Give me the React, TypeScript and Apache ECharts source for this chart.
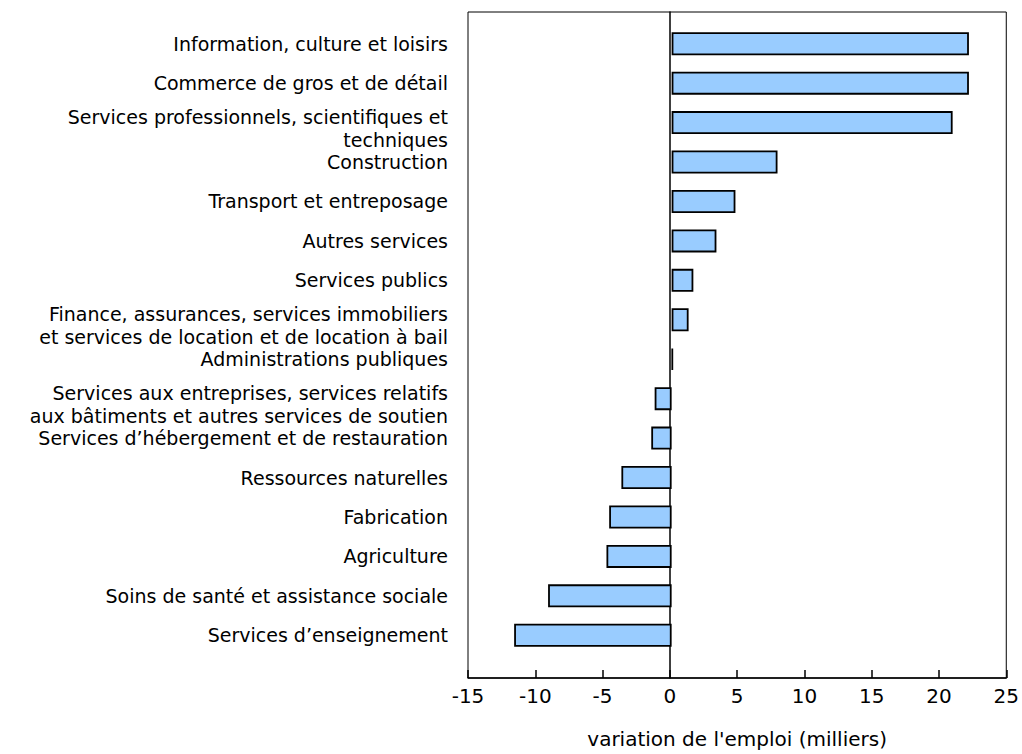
import React, { useEffect, useRef } from "react";
import * as echarts from "echarts";

const categories: string[] = [
  "Information, culture et loisirs",
  "Commerce de gros et de détail",
  "Services professionnels, scientifiques et\ntechniques",
  "Construction",
  "Transport et entreposage",
  "Autres services",
  "Services publics",
  "Finance, assurances, services immobiliers\net services de location et de location à bail",
  "Administrations publiques",
  "Services aux entreprises, services relatifs\naux bâtiments et autres services de soutien",
  "Services d’hébergement et de restauration",
  "Ressources naturelles",
  "Fabrication",
  "Agriculture",
  "Soins de santé et assistance sociale",
  "Services d’enseignement",
];

const values: number[] = [21.9, 21.9, 20.7, 7.8, 4.7, 3.3, 1.6, 1.25, 0.1, -1.25, -1.5, -3.7, -4.6, -4.8, -9.1, -11.6];

const xMin = -15;
const xMax = 25;
const xInterval = 5;
const xName = "variation de l'emploi (milliers)";

const FONT = "DejaVu Sans, Verdana, sans-serif";
const FS = 20;
const YFS = 19;

export default function App() {
  const ref = useRef<HTMLDivElement>(null);
  useEffect(() => {
    if (!ref.current) return;
    const chart = echarts.init(ref.current, undefined, { renderer: "svg" });
    chart.setOption({
      animation: false,
      backgroundColor: "#fff",
      textStyle: { fontFamily: FONT },
      grid: [
        { left: 468, right: 11, top: 12, bottom: 72, show: true, borderColor: "#000", borderWidth: 1, backgroundColor: "transparent" },
        { left: 468, right: 11, top: 24, bottom: 99 },
      ],
      xAxis: [
        {
          gridIndex: 0,
          type: "value",
          min: xMin,
          max: xMax,
          interval: xInterval,
          axisLine: { show: true, onZero: false, lineStyle: { color: "#000", width: 1.5 } },
          axisTick: { show: true, inside: true, length: 8, lineStyle: { color: "#000", width: 1.5 } },
          axisLabel: { color: "#000", fontSize: FS, fontFamily: FONT, margin: 8 },
          splitLine: { show: false },
          name: xName,
          nameLocation: "middle",
          nameGap: 51,
          nameTextStyle: { color: "#000", fontSize: FS, fontFamily: FONT },
        },
        {
          gridIndex: 1,
          type: "value",
          min: xMin,
          max: xMax,
          interval: xInterval,
          show: false,
        },
      ],
      yAxis: [
        {
          gridIndex: 0,
          type: "value",
          min: 0,
          max: 1,
          axisLine: { show: true, onZero: true, lineStyle: { color: "#000", width: 1.5 } },
          axisTick: { show: false },
          axisLabel: { show: false },
          splitLine: { show: false },
        },
        {
          gridIndex: 1,
          type: "category",
          inverse: true,
          data: categories,
          axisLine: { show: false },
          axisTick: { show: false },
          axisLabel: {
            color: "#000",
            fontSize: YFS,
            fontFamily: FONT,
            margin: 20,
            formatter: (v: string) => {
              const parts = v.split("\n");
              if (parts.length > 1) {
                return "{s| }\n" + parts.map((p) => "{a|" + p + "}").join("\n");
              }
              return "{b|" + v + "}";
            },
            rich: {
              a: { fontSize: YFS, fontFamily: FONT, color: "#000", lineHeight: 22.5, align: "right" },
              b: { fontSize: YFS, fontFamily: FONT, color: "#000", lineHeight: 20, align: "right" },
              s: { fontSize: 2, lineHeight: 11.5 },
            },
          },
          splitLine: { show: false },
        },
      ],
      series: [
        {
          type: "bar",
          xAxisIndex: 1,
          yAxisIndex: 1,
          data: values,
          barWidth: 23,
          itemStyle: { color: "#99ccff", borderColor: "#000", borderWidth: 1.8 },
        },
      ],
    });
    return () => chart.dispose();
  }, []);
  return <div ref={ref} style={{ position: "fixed", left: 0, top: 0, width: 1022, height: 754 }} />;
}
